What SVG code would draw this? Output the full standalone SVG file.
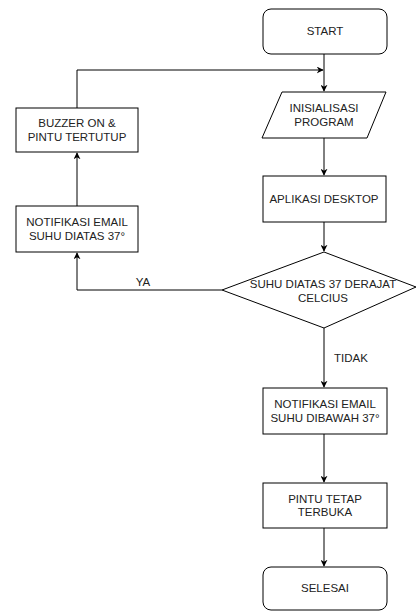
<svg xmlns="http://www.w3.org/2000/svg" width="417" height="611" viewBox="0 0 417 611">
<style>
.n{fill:#fff;stroke:#000;stroke-width:1}
.t{font-family:"Liberation Sans",Arial,sans-serif;font-size:11.5px;fill:#222;text-anchor:middle}
.c{fill:none;stroke:#000;stroke-width:1}
</style>
<defs>
<marker id="a" viewBox="0 0 10 10" refX="9" refY="5" markerWidth="7" markerHeight="7" markerUnits="userSpaceOnUse" orient="auto">
<path d="M0,0 L10,5 L0,10 L3,5 Z" fill="#000"/>
</marker>
</defs>
<rect width="417" height="611" fill="#fff"/>
<g id="connectors">
<path class="c" d="M324,54 V91" marker-end="url(#a)"/>
<path class="c" d="M77,108 V70 H323" marker-end="url(#a)"/>
<path class="c" d="M324,138 V175" marker-end="url(#a)"/>
<path class="c" d="M324,222 V251" marker-end="url(#a)"/>
<path class="c" d="M222,290 H77 V253" marker-end="url(#a)"/>
<path class="c" d="M77,206 V153" marker-end="url(#a)"/>
<path class="c" d="M324,328 V387" marker-end="url(#a)"/>
<path class="c" d="M324,434 V482" marker-end="url(#a)"/>
<path class="c" d="M324,528 V566" marker-end="url(#a)"/>
<text class="t" x="143" y="286">YA</text>
<text class="t" x="351" y="362">TIDAK</text>
</g>
<g id="start">
<rect class="n" x="263" y="9" width="124" height="45" rx="8"/>
<text class="t" x="325" y="35">START</text>
</g>
<g id="init">
<polygon class="n" points="282,92 386,92 367,138 262,138"/>
<text class="t" x="324" y="112">INISIALISASI</text>
<text class="t" x="324" y="125.5">PROGRAM</text>
</g>
<g id="aplikasi">
<rect class="n" x="263" y="176" width="123" height="46"/>
<text class="t" x="324" y="203">APLIKASI DESKTOP</text>
</g>
<g id="decision">
<polygon class="n" points="324,252 416,287 324,328 222,290"/>
<text class="t" x="323" y="288">SUHU DIATAS 37 DERAJAT</text>
<text class="t" x="323" y="301.5">CELCIUS</text>
</g>
<g id="notif-bawah">
<rect class="n" x="263" y="388" width="124" height="46"/>
<text class="t" x="325" y="408">NOTIFIKASI EMAIL</text>
<text class="t" x="325" y="421.5">SUHU DIBAWAH 37°</text>
</g>
<g id="pintu-buka">
<rect class="n" x="263" y="483" width="124" height="45"/>
<text class="t" x="325" y="502.5">PINTU TETAP</text>
<text class="t" x="325" y="516">TERBUKA</text>
</g>
<g id="selesai">
<rect class="n" x="263" y="567" width="124" height="43" rx="8"/>
<text class="t" x="325" y="592">SELESAI</text>
</g>
<g id="buzzer">
<rect class="n" x="16" y="108" width="122" height="44"/>
<text class="t" x="77" y="127">BUZZER ON &amp;</text>
<text class="t" x="77" y="140.5">PINTU TERTUTUP</text>
</g>
<g id="notif-atas">
<rect class="n" x="16" y="206" width="122" height="46"/>
<text class="t" x="77" y="226">NOTIFIKASI EMAIL</text>
<text class="t" x="77" y="239.5">SUHU DIATAS 37°</text>
</g>
</svg>
